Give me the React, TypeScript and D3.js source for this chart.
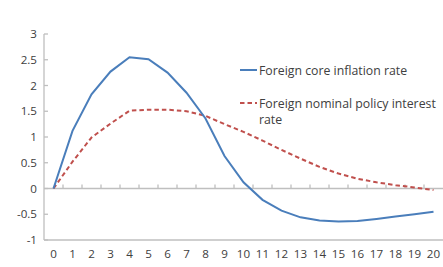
import React from "react";
import * as d3 from "d3";

const periods = d3.range(0, 21).map(String);
const coreInflation = [0, 1.12, 1.83, 2.27, 2.55, 2.51, 2.25, 1.86, 1.36, 0.63, 0.12, -0.22, -0.43, -0.56, -0.62, -0.64, -0.63, -0.59, -0.545, -0.5, -0.45];
const policyRate = [0, 0.52, 0.99, 1.26, 1.51, 1.53, 1.53, 1.5, 1.41, 1.25, 1.1, 0.93, 0.75, 0.58, 0.42, 0.29, 0.19, 0.12, 0.065, 0.02, -0.03];
const yTicks = [-1, -0.5, 0, 0.5, 1, 1.5, 2, 2.5, 3];
const seriesNames = ["Foreign core inflation rate", "Foreign nominal policy interest", "rate"];

const W = 443, H = 267;
const left = 44, right = 443, top = 34, bottom = 240;
const font = "'Segoe UI', 'Open Sans', 'Noto Sans', sans-serif";

export default function App() {
  const x = d3.scaleBand<string>().domain(periods).range([left, right]);
  const y = d3.scaleLinear().domain([-1, 3]).range([bottom, top]);
  const cx = (i: number) => (x(periods[i]) as number) + x.bandwidth() / 2;
  const line = d3.line<number>().x((_, i) => cx(i)).y((d) => y(d));
  const axisColor = "#bfbfbf";
  const textColor = "#404040";
  return (
    <svg width={W} height={H} style={{ position: "absolute", left: 0, top: 0, background: "#fff" }}>
      {/* y axis */}
      <line x1={left} x2={left} y1={top} y2={bottom} stroke={axisColor} strokeWidth={1.3} />
      {yTicks.map((t) => (
        <g key={t}>
          <line x1={left} x2={left + 4} y1={y(t)} y2={y(t)} stroke={axisColor} strokeWidth={1.3} />
          <text x={37} y={y(t)} dy="0.35em" textAnchor="end" fontFamily={font} fontSize={11.6} fill={textColor}>
            {t}
          </text>
        </g>
      ))}
      {/* bottom border */}
      <line x1={left} x2={right} y1={bottom} y2={bottom} stroke={axisColor} strokeWidth={1.3} />
      {/* zero axis */}
      <line x1={left} x2={right} y1={y(0)} y2={y(0)} stroke={axisColor} strokeWidth={1.3} />
      {periods.map((p, i) => (
        <g key={p}>
          {i > 0 && (
            <line x1={x(p) as number} x2={x(p) as number} y1={y(0)} y2={y(0) - 4} stroke={axisColor} strokeWidth={1.3} />
          )}
          <text x={cx(i)} y={258} textAnchor="middle" fontFamily={font} fontSize={11.6} fill={textColor}>
            {p}
          </text>
        </g>
      ))}
      <path d={line(policyRate) ?? ""} fill="none" stroke="#c0504d" strokeWidth={2} strokeDasharray="4.5,3" />
      <path d={line(coreInflation) ?? ""} fill="none" stroke="#4a7ebb" strokeWidth={2} />
      {/* legend */}
      <line x1={240} x2={257} y1={70} y2={70} stroke="#4a7ebb" strokeWidth={2} />
      <text x={259} y={74.5} fontFamily={font} fontSize={12.3} fill={textColor}>{seriesNames[0]}</text>
      <line x1={240} x2={257} y1={103} y2={103} stroke="#c0504d" strokeWidth={2} strokeDasharray="4.5,3" />
      <text x={259} y={107.5} fontFamily={font} fontSize={12.3} fill={textColor}>{seriesNames[1]}</text>
      <text x={259} y={124} fontFamily={font} fontSize={12.3} fill={textColor}>{seriesNames[2]}</text>
    </svg>
  );
}
